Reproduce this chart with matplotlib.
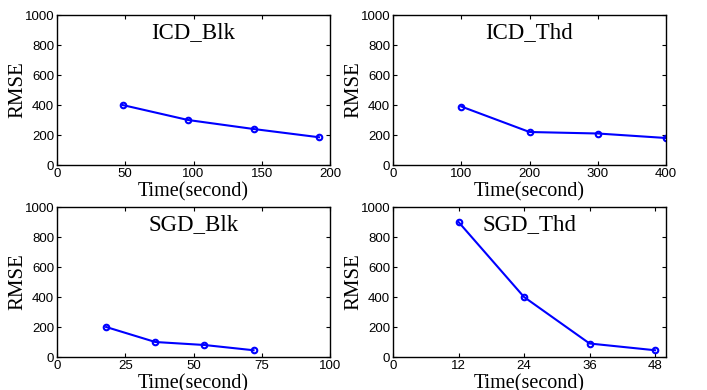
import matplotlib
matplotlib.use("Agg")
import matplotlib.pyplot as plt

titles = ["ICD_Blk", "ICD_Thd", "SGD_Blk", "SGD_Thd"]
x_icd_blk = [48, 96, 144, 192]
y_icd_blk = [400, 300, 240, 185]
x_icd_thd = [100, 200, 300, 400]
y_icd_thd = [390, 220, 210, 180]
x_sgd_blk = [18, 36, 54, 72]
y_sgd_blk = [200, 100, 80, 45]
x_sgd_thd = [12, 24, 36, 48]
y_sgd_thd = [900, 400, 90, 45]

xs = [x_icd_blk, x_icd_thd, x_sgd_blk, x_sgd_thd]
ys = [y_icd_blk, y_icd_thd, y_sgd_blk, y_sgd_thd]
xlims = [(0, 200), (0, 400), (0, 100), (0, 50)]
xticks = [[0, 50, 100, 150, 200], [0, 100, 200, 300, 400],
          [0, 25, 50, 75, 100], [0, 12, 24, 36, 48]]
yticks = [0, 200, 400, 600, 800, 1000]

fig = plt.figure(figsize=(7.07, 3.90), dpi=100)
W, H = 707, 390
positions = [
    (57, 15, 273, 150), (393, 15, 273, 150),
    (57, 207, 273, 150), (393, 207, 273, 150),
]
serif = ["Liberation Serif", "DejaVu Serif"]
sans = ["Liberation Sans", "DejaVu Sans"]
for i in range(4):
    l, t, w, h = positions[i]
    ax = fig.add_axes([l / W, 1 - (t + h) / H, w / W, h / H])
    ax.plot(xs[i], ys[i], color="#0000ff", lw=1.5, marker="o", ms=4,
            mfc="none", mec="#0000ff", mew=1.5)
    ax.set_xlim(*xlims[i])
    ax.set_ylim(0, 1000)
    ax.set_xticks(xticks[i])
    ax.set_yticks(yticks)
    ax.tick_params(direction="in", length=3, width=0.8, top=True, right=True,
                   labelsize=9.5, pad=2)
    for lab in ax.get_xticklabels() + ax.get_yticklabels():
        lab.set_family(sans)
    for sp in ax.spines.values():
        sp.set_linewidth(1.0)
    ax.text(0.5, 0.95, titles[i], transform=ax.transAxes, ha="center",
            va="top", fontsize=16.5, family=serif)
    ax.set_xlabel("Time(second)", fontsize=14.5, family=serif, labelpad=1.5)
    ax.set_ylabel("RMSE", fontsize=15, family=serif, labelpad=-2)

fig.savefig("out.png", dpi=100)
